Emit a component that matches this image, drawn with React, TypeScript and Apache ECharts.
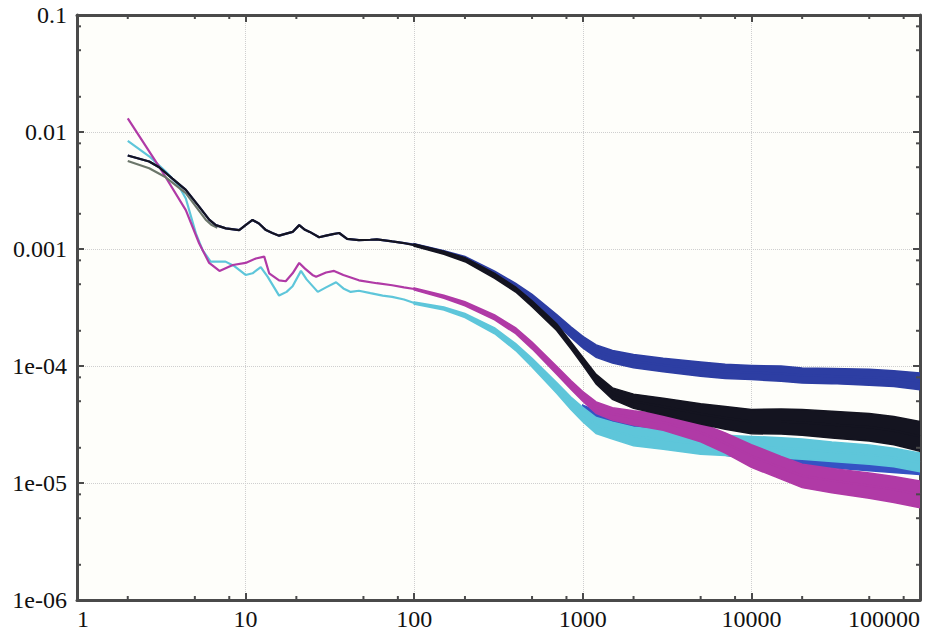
import React, { useEffect, useRef } from "react";
import * as echarts from "echarts";

// ---- axis ticks ----
const X_TICK_LABELS = ["1", "10", "100", "1000", "10000", "100000"];
const Y_TICK_LABELS = ["1e-06", "1e-05", "1e-04", "0.001", "0.01", "0.1"];
const MINOR_MULTIPLIERS = [2, 5, 8];

// ---- low-frequency (smooth) part of each curve ----
const DARK_X = [2, 2.68, 3.07, 3.68, 4.42, 5.3, 6.08, 6.66, 7.64, 9.16, 10, 11, 12, 13.2, 14.4, 15.8, 17, 19, 20.8, 22.5, 24, 27.3, 30, 33, 35.9, 40, 47, 55, 60, 74, 85];
const DARK_Y = [0.0063, 0.0056, 0.005, 0.004, 0.0032, 0.0023, 0.00178, 0.0016, 0.0015, 0.00145, 0.0016, 0.00177, 0.00165, 0.00145, 0.00137, 0.0013, 0.00134, 0.0014, 0.0016, 0.00146, 0.0014, 0.00126, 0.0013, 0.00134, 0.00137, 0.00122, 0.00119, 0.0012, 0.00121, 0.00116, 0.00113];

const GRAY_X = [2, 2.68, 3.36, 4.42, 5.8, 6.3, 6.8];
const GRAY_Y = [0.00565, 0.0049, 0.0041, 0.003, 0.00178, 0.0016, 0.00152];

const CYAN_X = [2, 2.68, 3.36, 4.0, 4.42, 5.07, 5.55, 6.2, 7.6, 8.5, 10, 11, 12.3, 13.5, 15.8, 17.5, 19, 21.3, 23, 26.8, 30, 34.4, 38, 42, 47, 55, 65, 74, 87];
const CYAN_Y = [0.0084, 0.0062, 0.0046, 0.0035, 0.0027, 0.00136, 0.00098, 0.00078, 0.00078, 0.00072, 0.0006, 0.00062, 0.0007, 0.00058, 0.0004, 0.00043, 0.00048, 0.00065, 0.00055, 0.00043, 0.00047, 0.00052, 0.00046, 0.00043, 0.00044, 0.00042, 0.0004, 0.00039, 0.00037];

const MAG_X = [2, 3.2, 4.42, 5.3, 6.08, 7, 8.4, 10, 11.5, 12.9, 13.8, 15.8, 17.3, 19, 20.8, 22.5, 24.9, 26.2, 30, 33.5, 38, 47, 60, 74, 87];
const MAG_Y = [0.0131, 0.0046, 0.00215, 0.00112, 0.00076, 0.00065, 0.00073, 0.00076, 0.00083, 0.00086, 0.00062, 0.00054, 0.00053, 0.00062, 0.00076, 0.00068, 0.0006, 0.00058, 0.00063, 0.00065, 0.0006, 0.00054, 0.00051, 0.00049, 0.00047];

// ---- noisy part: band centre and spread (ratio upper/centre) ----
const BAND_X = [100, 150, 200, 300, 400, 500, 700, 850, 1000, 1200, 1500, 2000, 3000, 5000, 7000, 10000, 15000, 20000, 30000, 50000, 70000, 100000];

const BLUE_MID = [1.09e-3, 9.4e-4, 8.3e-4, 6.1e-4, 4.75e-4, 3.8e-4, 2.5e-4, 1.95e-4, 1.6e-4, 1.34e-4, 1.2e-4, 1.1e-4, 1.02e-4, 9.4e-5, 9.0e-5, 8.8e-5, 8.6e-5, 8.3e-5, 8.2e-5, 8.0e-5, 7.8e-5, 7.4e-5];
const BLUE_SPREAD = [1.02, 1.03, 1.04, 1.06, 1.07, 1.08, 1.1, 1.11, 1.12, 1.13, 1.13, 1.14, 1.14, 1.15, 1.15, 1.15, 1.16, 1.16, 1.16, 1.17, 1.17, 1.18];

const BLACK_MID = [1.08e-3, 9.3e-4, 8.1e-4, 5.9e-4, 4.5e-4, 3.4e-4, 2.15e-4, 1.5e-4, 1.1e-4, 7.7e-5, 5.8e-5, 5.0e-5, 4.5e-5, 3.9e-5, 3.6e-5, 3.35e-5, 3.35e-5, 3.3e-5, 3.15e-5, 3.0e-5, 2.8e-5, 2.5e-5];
const BLACK_SPREAD = [1.02, 1.03, 1.04, 1.05, 1.05, 1.06, 1.07, 1.07, 1.08, 1.1, 1.12, 1.15, 1.18, 1.22, 1.25, 1.27, 1.28, 1.29, 1.3, 1.31, 1.32, 1.34];

const MAG_MID = [4.55e-4, 3.9e-4, 3.4e-4, 2.6e-4, 2.0e-4, 1.5e-4, 9.2e-5, 6.9e-5, 5.5e-5, 4.4e-5, 3.9e-5, 3.6e-5, 3.3e-5, 2.7e-5, 2.2e-5, 1.7e-5, 1.35e-5, 1.15e-5, 1.05e-5, 9.5e-6, 8.8e-6, 8.0e-6];
const MAG_SPREAD = [1.02, 1.03, 1.04, 1.05, 1.06, 1.07, 1.08, 1.09, 1.1, 1.12, 1.13, 1.15, 1.17, 1.2, 1.22, 1.25, 1.25, 1.26, 1.27, 1.28, 1.29, 1.3];

const CYAN_MID = [3.45e-4, 3.1e-4, 2.7e-4, 2.0e-4, 1.45e-4, 1.07e-4, 6.5e-5, 4.8e-5, 3.85e-5, 3.1e-5, 2.8e-5, 2.5e-5, 2.35e-5, 2.15e-5, 2.1e-5, 2.05e-5, 2.0e-5, 1.95e-5, 1.85e-5, 1.75e-5, 1.65e-5, 1.5e-5];
const CYAN_SPREAD = [1.02, 1.03, 1.04, 1.06, 1.07, 1.09, 1.11, 1.13, 1.15, 1.17, 1.18, 1.2, 1.21, 1.22, 1.22, 1.22, 1.22, 1.22, 1.21, 1.21, 1.2, 1.2];

const BLUE2_X = [1000, 1500, 2000, 3000, 5000, 10000, 20000, 50000, 100000];
const BLUE2_MID = [4.2e-5, 3.3e-5, 3.0e-5, 2.5e-5, 2.05e-5, 1.75e-5, 1.55e-5, 1.4e-5, 1.3e-5];
const BLUE2_SPREAD = [1.1, 1.1, 1.1, 1.1, 1.1, 1.1, 1.1, 1.1, 1.1];

const COLORS = {
  blue: "#2d3ea3",
  black: "#141420",
  magenta: "#b03aa6",
  cyan: "#5ec6da",
  gray: "#6b766a",
  blue2: "#3552c4",
};

const X_MIN = 1, X_MAX = 100000, Y_MIN = 1e-6, Y_MAX = 0.1;
const FONT = "Times New Roman";

function pts(xs: number[], ys: number[]) {
  return xs.map((x, i) => [x, ys[i]]);
}

function bandSeries(xs: number[], mid: number[], spread: number[], color: string, z: number) {
  return {
    type: "custom",
    z,
    silent: true,
    clip: true,
    xAxisIndex: 0,
    yAxisIndex: 0,
    data: [[xs[0], mid[0]]],
    renderItem: (_p: any, api: any) => {
      const upper = xs.map((x, i) => api.coord([x, mid[i] * spread[i]]));
      const lower = xs.map((x, i) => api.coord([x, mid[i] / spread[i]])).reverse();
      return {
        type: "polygon",
        shape: { points: upper.concat(lower) },
        style: { fill: color, stroke: color, lineWidth: 1.5 },
      };
    },
  };
}

function lineSeries(data: number[][], color: string, z: number, width = 2.2) {
  return {
    type: "line",
    z,
    data,
    showSymbol: false,
    symbol: "none",
    silent: true,
    lineStyle: { color, width },
    itemStyle: { color },
  };
}

export default function App() {
  const ref = useRef<HTMLDivElement>(null);
  useEffect(() => {
    if (!ref.current) return;
    const chart = echarts.init(ref.current, undefined, { renderer: "svg" });

    const minorX: number[][] = [];
    for (let k = 0; k < 5; k++) MINOR_MULTIPLIERS.forEach((m) => minorX.push([m * Math.pow(10, k), 1e-3]));
    const minorY: number[][] = [];
    for (let k = -6; k < -1; k++) MINOR_MULTIPLIERS.forEach((m) => minorY.push([10, m * Math.pow(10, k)]));

    const axisLineStyle = { color: "#4a4a4a", width: 3 };
    const tickStyle = { color: "#4a4a4a", width: 2 };

    const xLabel = (v: number) => X_TICK_LABELS[Math.round(Math.log10(v))] ?? "";
    const yLabel = (v: number) => Y_TICK_LABELS[Math.round(Math.log10(v)) + 6] ?? "";

    const option: any = {
      animation: false,
      backgroundColor: "#ffffff",
      textStyle: { fontFamily: FONT },
      grid: {
        left: 77,
        right: 9,
        top: 15,
        bottom: 34,
        show: true,
        backgroundColor: "#fefefa",
        borderWidth: 0,
        outerBoundsMode: "none",
      },
      xAxis: [
        {
          type: "log",
          logBase: 10,
          min: X_MIN,
          max: X_MAX,
          position: "bottom",
          axisLine: { show: true, lineStyle: axisLineStyle },
          axisTick: { show: true, inside: true, length: 7, lineStyle: tickStyle },
          axisLabel: {
            show: true,
            formatter: xLabel,
            fontFamily: FONT,
            fontSize: 24,
            color: "#111",
            margin: 7,
            alignMinLabel: "left",
            alignMaxLabel: "right",
          },
          splitLine: { show: true, lineStyle: { color: "#cfcfcf", type: "dotted", width: 1 } },
        },
        {
          type: "log",
          logBase: 10,
          min: X_MIN,
          max: X_MAX,
          position: "top",
          axisLine: { show: true, lineStyle: axisLineStyle },
          axisTick: { show: true, inside: true, length: 7, lineStyle: tickStyle },
          axisLabel: { show: false },
          splitLine: { show: false },
        },
      ],
      yAxis: [
        {
          type: "log",
          logBase: 10,
          min: Y_MIN,
          max: Y_MAX,
          position: "left",
          axisLine: { show: true, lineStyle: axisLineStyle },
          axisTick: { show: true, inside: true, length: 7, lineStyle: tickStyle },
          axisLabel: {
            show: true,
            formatter: yLabel,
            fontFamily: FONT,
            fontSize: 24,
            color: "#111",
            margin: 10,
          },
          splitLine: { show: true, lineStyle: { color: "#cfcfcf", type: "dotted", width: 1 } },
        },
        {
          type: "log",
          logBase: 10,
          min: Y_MIN,
          max: Y_MAX,
          position: "right",
          axisLine: { show: true, lineStyle: axisLineStyle },
          axisTick: { show: true, inside: true, length: 7, lineStyle: tickStyle },
          axisLabel: { show: false },
          splitLine: { show: false },
        },
      ],
      series: [
        bandSeries(BLUE2_X, BLUE2_MID, BLUE2_SPREAD, COLORS.blue2, 2),
        bandSeries(BAND_X, CYAN_MID, CYAN_SPREAD, COLORS.cyan, 3),
        lineSeries(pts(CYAN_X, CYAN_Y).concat(pts(BAND_X, CYAN_MID)), COLORS.cyan, 3),
        bandSeries(BAND_X, MAG_MID, MAG_SPREAD, COLORS.magenta, 4),
        lineSeries(pts(MAG_X, MAG_Y).concat(pts(BAND_X, MAG_MID)), COLORS.magenta, 4),
        lineSeries(pts(GRAY_X, GRAY_Y), COLORS.gray, 5),
        bandSeries(BAND_X, BLUE_MID, BLUE_SPREAD, COLORS.blue, 6),
        lineSeries(pts(DARK_X, DARK_Y).concat(pts(BAND_X, BLUE_MID)), COLORS.blue, 6),
        bandSeries(BAND_X, BLACK_MID, BLACK_SPREAD, COLORS.black, 7),
        lineSeries(pts(DARK_X, DARK_Y).concat(pts(BAND_X, BLACK_MID)), COLORS.black, 7),
        {
          type: "custom",
          z: 20,
          silent: true,
          clip: false,
          data: minorX,
          renderItem: (_p: any, api: any) => {
            const v = api.value(0);
            const b = api.coord([v, Y_MIN]);
            const t = api.coord([v, Y_MAX]);
            return {
              type: "group",
              children: [
                { type: "line", shape: { x1: b[0], y1: b[1], x2: b[0], y2: b[1] - 4 }, style: { stroke: "#4a4a4a", lineWidth: 2 } },
                { type: "line", shape: { x1: t[0], y1: t[1], x2: t[0], y2: t[1] + 4 }, style: { stroke: "#4a4a4a", lineWidth: 2 } },
              ],
            };
          },
        },
        {
          type: "custom",
          z: 20,
          silent: true,
          clip: false,
          data: minorY,
          renderItem: (_p: any, api: any) => {
            const v = api.value(1);
            const l = api.coord([X_MIN, v]);
            const r = api.coord([X_MAX, v]);
            return {
              type: "group",
              children: [
                { type: "line", shape: { x1: l[0], y1: l[1], x2: l[0] + 4, y2: l[1] }, style: { stroke: "#4a4a4a", lineWidth: 2 } },
                { type: "line", shape: { x1: r[0], y1: r[1], x2: r[0] - 4, y2: r[1] }, style: { stroke: "#4a4a4a", lineWidth: 2 } },
              ],
            };
          },
        },
      ],
    };
    chart.setOption(option);
    return () => chart.dispose();
  }, []);

  return (
    <div
      ref={ref}
      style={{ position: "absolute", left: 0, top: 0, width: 929, height: 634, background: "#ffffff" }}
    />
  );
}
